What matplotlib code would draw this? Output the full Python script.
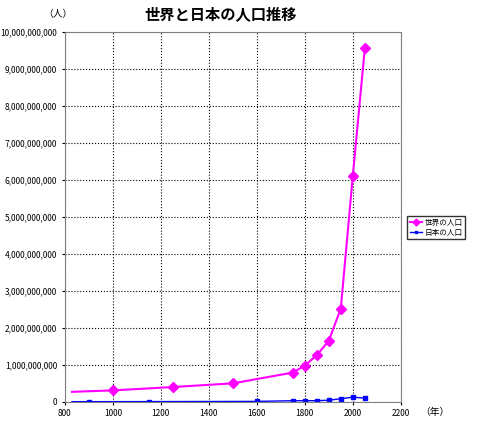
import matplotlib
matplotlib.use("Agg")
import matplotlib.pyplot as plt
from matplotlib.ticker import FuncFormatter

plt.rcParams['font.family'] = ['Noto Sans CJK JP', 'DejaVu Sans']

world_years = [830, 1000, 1250, 1500, 1750, 1800, 1850, 1900, 1950, 2000, 2050]
world_pop = [270e6, 310e6, 400e6, 500e6, 790e6, 980e6, 1260e6, 1650e6, 2520e6, 6100e6, 9550e6]
japan_years = [830, 900, 1150, 1600, 1750, 1800, 1850, 1900, 1950, 2000, 2050]
japan_pop = [5e6, 5e6, 7e6, 12e6, 31e6, 30e6, 32e6, 44e6, 84e6, 127e6, 100e6]

fig = plt.figure(figsize=(4.8, 4.23), dpi=100)
ax = fig.add_axes([0.135, 0.05, 0.70, 0.875])
ax.plot(world_years, world_pop, color='#ff00ff', lw=1.5, marker='D', ms=5,
        markevery=list(range(1, len(world_years))), label='世界の人口')
ax.plot(japan_years, japan_pop, color='#0000ff', lw=1, marker='s', ms=2.5,
        markevery=list(range(1, len(japan_years))), label='日本の人口')
ax.set_xlim(800, 2200)
ax.set_ylim(0, 10e9)
ax.set_xticks(range(800, 2201, 200))
ax.set_yticks([i * 1e9 for i in range(11)])
ax.yaxis.set_major_formatter(FuncFormatter(lambda v, p: f"{int(v):,}"))
ax.tick_params(labelsize=6, length=2)
ax.grid(True, color='black', ls=':', lw=0.8)
for s in ax.spines.values():
    s.set_color('#808080')
fig.text(0.46, 0.955, '世界と日本の人口推移', ha='center', fontsize=11, fontweight='bold')
fig.text(0.09, 0.96, '（人）', fontsize=7)
fig.text(0.875, 0.02, '（年）', fontsize=7)
ax.legend(loc='center left', bbox_to_anchor=(1.015, 0.47), fontsize=5.5,
          frameon=True, edgecolor='black', fancybox=False, handlelength=1.6,
          handletextpad=0.3, borderpad=0.3, borderaxespad=0.2, labelspacing=0.3,
          markerscale=0.7)
fig.savefig('out.png', dpi=100)
